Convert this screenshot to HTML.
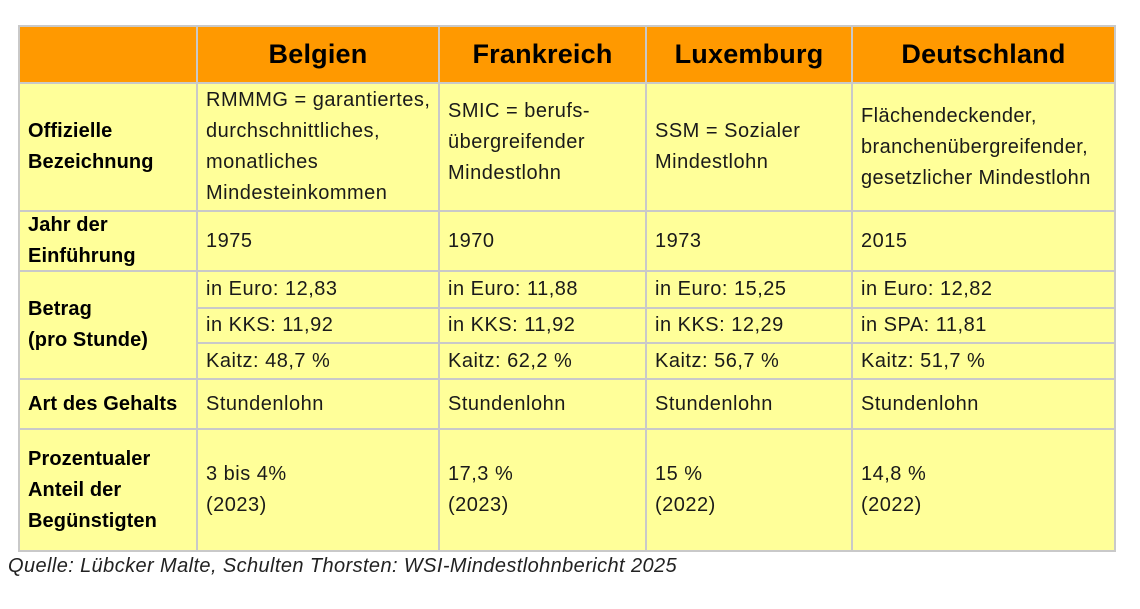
<!DOCTYPE html>
<html><head><meta charset="utf-8"><style>
body{margin:0;width:1140px;height:609px;background:#fff;position:relative;font-family:"Liberation Sans",sans-serif;color:#1a1a1a;overflow:hidden}
.c{position:absolute;box-sizing:border-box;border:2px solid #c9c9c9;background:#ffff99;font-size:20px;letter-spacing:0.5px;line-height:31px;padding-left:8px;display:flex;align-items:center;white-space:nowrap}
.h{background:#ff9900;font-weight:bold;font-size:27px;letter-spacing:0.2px;justify-content:center;padding:0;color:#000}
.b{font-weight:bold;color:#000;letter-spacing:0.1px}
.src{position:absolute;left:8px;top:555px;font-style:italic;font-size:20px;letter-spacing:0.4px;color:#222}
</style></head><body>
<div class="c h" style="left:18px;top:25px;width:180px;height:59px"></div>
<div class="c h" style="left:196px;top:25px;width:244px;height:59px">Belgien</div>
<div class="c h" style="left:438px;top:25px;width:209px;height:59px">Frankreich</div>
<div class="c h" style="left:645px;top:25px;width:208px;height:59px">Luxemburg</div>
<div class="c h" style="left:851px;top:25px;width:265px;height:59px">Deutschland</div>

<div class="c b" style="left:18px;top:82px;width:180px;height:130px">Offizielle<br>Bezeichnung</div>
<div class="c" style="left:196px;top:82px;width:244px;height:130px;letter-spacing:0.5px">RMMMG = garantiertes,<br>durchschnittliches,<br>monatliches<br>Mindesteinkommen</div>
<div class="c" style="left:438px;top:82px;width:209px;height:130px;align-items:flex-start;padding-top:12px">SMIC = berufs-<br>übergreifender<br>Mindestlohn</div>
<div class="c" style="left:645px;top:82px;width:208px;height:130px">SSM = Sozialer<br>Mindestlohn</div>
<div class="c" style="left:851px;top:82px;width:265px;height:130px;letter-spacing:0.4px">Flächendeckender,<br>branchenübergreifender,<br>gesetzlicher Mindestlohn</div>

<div class="c b" style="left:18px;top:210px;width:180px;height:62px">Jahr der<br>Einführung</div>
<div class="c" style="left:196px;top:210px;width:244px;height:62px">1975</div>
<div class="c" style="left:438px;top:210px;width:209px;height:62px">1970</div>
<div class="c" style="left:645px;top:210px;width:208px;height:62px">1973</div>
<div class="c" style="left:851px;top:210px;width:265px;height:62px">2015</div>

<div class="c b" style="left:18px;top:270px;width:180px;height:110px">Betrag<br>(pro Stunde)</div>
<div class="c" style="left:196px;top:270px;width:244px;height:39px">in Euro: 12,83</div>
<div class="c" style="left:438px;top:270px;width:209px;height:39px">in Euro: 11,88</div>
<div class="c" style="left:645px;top:270px;width:208px;height:39px">in Euro: 15,25</div>
<div class="c" style="left:851px;top:270px;width:265px;height:39px">in Euro: 12,82</div>
<div class="c" style="left:196px;top:307px;width:244px;height:37px">in KKS: 11,92</div>
<div class="c" style="left:438px;top:307px;width:209px;height:37px">in KKS: 11,92</div>
<div class="c" style="left:645px;top:307px;width:208px;height:37px">in KKS: 12,29</div>
<div class="c" style="left:851px;top:307px;width:265px;height:37px">in SPA: 11,81</div>
<div class="c" style="left:196px;top:342px;width:244px;height:38px">Kaitz: 48,7 %</div>
<div class="c" style="left:438px;top:342px;width:209px;height:38px">Kaitz: 62,2 %</div>
<div class="c" style="left:645px;top:342px;width:208px;height:38px">Kaitz: 56,7 %</div>
<div class="c" style="left:851px;top:342px;width:265px;height:38px">Kaitz: 51,7 %</div>

<div class="c b" style="left:18px;top:378px;width:180px;height:52px">Art des Gehalts</div>
<div class="c" style="left:196px;top:378px;width:244px;height:52px">Stundenlohn</div>
<div class="c" style="left:438px;top:378px;width:209px;height:52px">Stundenlohn</div>
<div class="c" style="left:645px;top:378px;width:208px;height:52px">Stundenlohn</div>
<div class="c" style="left:851px;top:378px;width:265px;height:52px">Stundenlohn</div>

<div class="c b" style="left:18px;top:428px;width:180px;height:124px">Prozentualer<br>Anteil der<br>Begünstigten</div>
<div class="c" style="left:196px;top:428px;width:244px;height:124px">3 bis 4%<br>(2023)</div>
<div class="c" style="left:438px;top:428px;width:209px;height:124px">17,3 %<br>(2023)</div>
<div class="c" style="left:645px;top:428px;width:208px;height:124px">15 %<br>(2022)</div>
<div class="c" style="left:851px;top:428px;width:265px;height:124px">14,8 %<br>(2022)</div>

<div class="src">Quelle: Lübcker Malte, Schulten Thorsten: WSI-Mindestlohnbericht 2025</div>
</body></html>
